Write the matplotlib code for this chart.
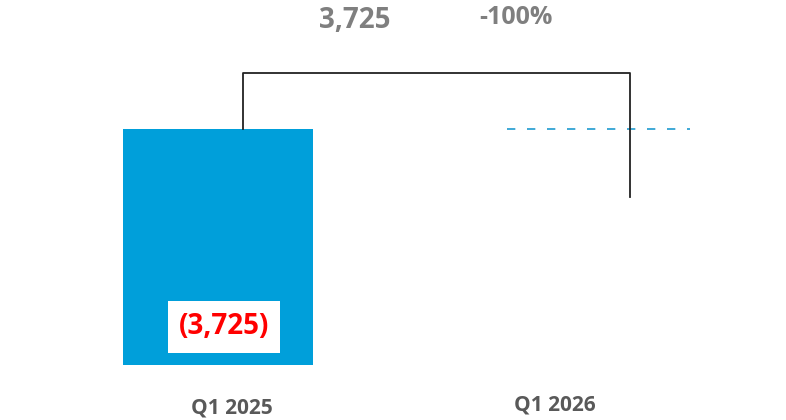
#!/usr/bin/env python3

import matplotlib.pyplot as plt

categories = ["Q1 2025", "Q1 2026"]
values = [3725, 0]
delta_label = "3,725"
pct_label = "-100%"
bar_label = "(3,725)"

BLUE = "#009fda"
GRAY = "#7f7f7f"
DARK = "#595959"


def main():
    plt.rcParams["font.family"] = ["Open Sans", "DejaVu Sans"]
    fig = plt.figure(figsize=(7.86, 4.20), dpi=100)
    ax = fig.add_axes([0, 0, 1, 1])
    ax.set_xlim(-0.572, 1.491)
    ax.set_ylim(-868, 5761)
    ax.axis("off")

    xs = list(range(len(categories)))
    ax.bar(xs[0], values[0], width=0.5, color=BLUE)

    # bar value label in white box
    ax.text(xs[0] + 0.016, 600, bar_label, color="red", fontsize=20,
            fontweight="bold", ha="center", va="center",
            bbox=dict(facecolor="white", edgecolor="none", pad=8))

    # dashed reference line at previous level
    ax.plot([xs[1] - 0.24, xs[1] + 0.24], [values[0], values[0]],
            color="#1f9bd0", linestyle=(0, (5, 7)), linewidth=1.2)

    # bracket
    top = 4609
    ax.plot([xs[0] + 0.066, xs[0] + 0.066, xs[1] + 0.081, xs[1] + 0.081],
            [values[0], top, top, 2651], color="#222222", linewidth=1.3)

    ax.text(0.358, 5445, delta_label, color=GRAY, fontsize=20,
            fontweight="bold", ha="center", va="center")
    ax.text(0.782, 5490, pct_label, color=GRAY, fontsize=18,
            fontweight="bold", ha="center", va="center")

    # category labels
    ax.text(xs[0] + 0.037, -680, categories[0], color=DARK, fontsize=15,
            fontweight="bold", ha="center", va="center")
    ax.text(xs[1] - 0.115, -635, categories[1], color=DARK, fontsize=15,
            fontweight="bold", ha="center", va="center")

    fig.savefig("out.png", dpi=100)


if __name__ == "__main__":
    main()
